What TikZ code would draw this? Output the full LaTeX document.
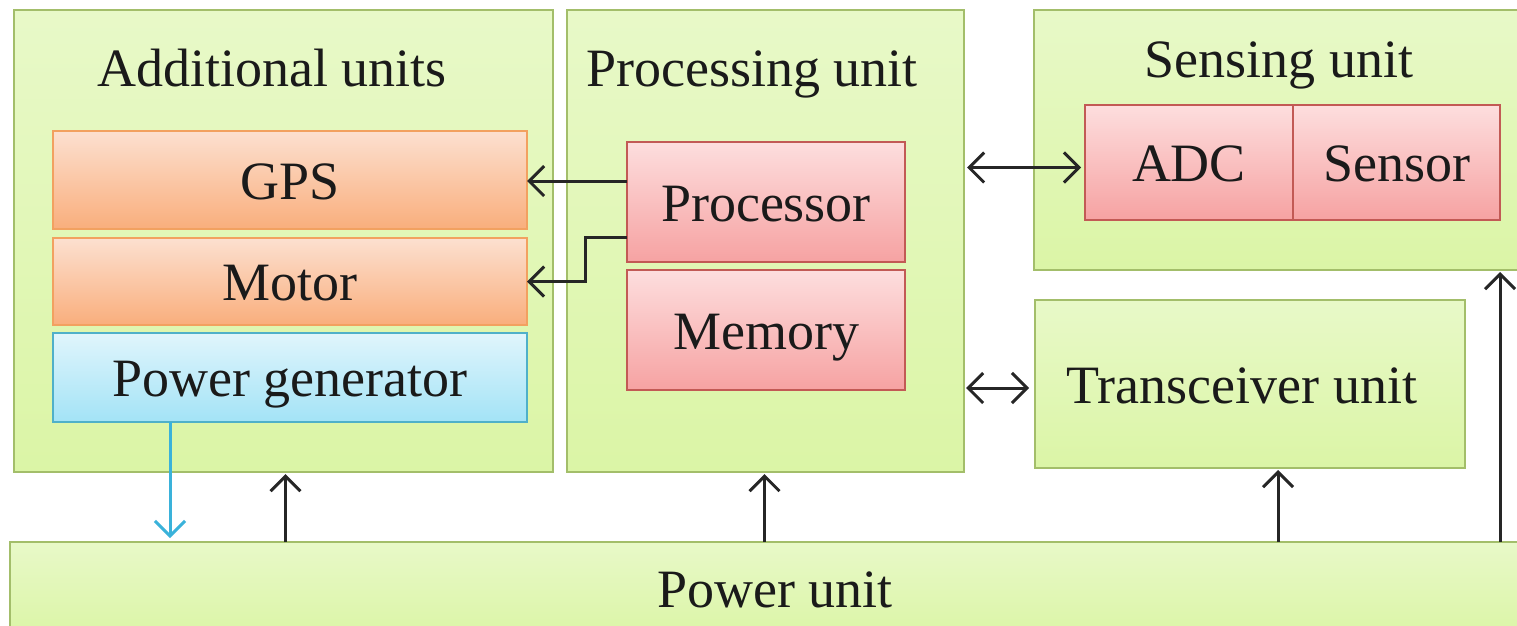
\documentclass[tikz,border=0pt]{standalone}
\usepackage{fontspec}
\setmainfont{Liberation Serif}
\usetikzlibrary{arrows.meta}
\definecolor{grnline}{HTML}{A3BE6A}
\definecolor{grntop}{HTML}{E8F9C8}
\definecolor{grnbot}{HTML}{DBF5A6}
\definecolor{orgline}{HTML}{F2A160}
\definecolor{orgtop}{HTML}{FCE0D0}
\definecolor{orgbot}{HTML}{F9AE7C}
\definecolor{redline}{HTML}{C25A55}
\definecolor{redtop}{HTML}{FDDEDE}
\definecolor{redbot}{HTML}{F6A2A2}
\definecolor{bluline}{HTML}{4FB0C9}
\definecolor{blutop}{HTML}{E0F5FC}
\definecolor{blubot}{HTML}{A3E3F6}
\definecolor{cyanarr}{HTML}{3AB2DA}
\definecolor{txt}{HTML}{1A1A1A}
\tikzset{
  base box/.style={draw, line width=2.5pt, inner sep=0pt, outer sep=0pt,
    anchor=north west, text height=38pt, text depth=0pt, text=txt,
    font=\fontsize{54}{60}\selectfont},
  grnbox/.style={base box, draw=grnline, top color=grntop, bottom color=grnbot},
  orgbox/.style={base box, draw=orgline, top color=orgtop, bottom color=orgbot},
  redbox/.style={base box, draw=redline, top color=redtop, bottom color=redbot},
  blubox/.style={base box, draw=bluline, top color=blutop, bottom color=blubot},
  title/.style={anchor=base, inner sep=0pt, text=txt, font=\fontsize{54}{60}\selectfont},
  arr/.style={line width=3pt, draw=black!85, -{Straight Barb[length=15pt,width=30pt,line width=3pt]}},
  dblarr/.style={line width=3pt, draw=black!85, {Straight Barb[length=15pt,width=30pt,line width=3pt]}-{Straight Barb[length=15pt,width=30pt,line width=3pt]}},
  cyarr/.style={line width=3pt, draw=cyanarr, -{Straight Barb[length=15pt,width=30pt,line width=3pt]}},
}
\begin{document}
\begin{tikzpicture}[x=1pt,y=-1pt]
\useasboundingbox (0,0) rectangle (1517,625);
\clip (0,0) rectangle (1517,625);
\fill[white] (0,0) rectangle (1517,625);

% containers
\node[grnbox, minimum width=539pt, minimum height=462pt] (add) at (14,10) {};
\node[title] (addt) at (272,86) {Additional units};
\node[grnbox, minimum width=397pt, minimum height=462pt] (pu) at (567,10) {};
\node[title] (put) at (752,86) {Processing unit};
\node[grnbox, minimum width=520pt, minimum height=260pt] (sens) at (1034,10) {};
\node[title] (senst) at (1279,77) {Sensing unit};
\node[grnbox, minimum width=430pt, minimum height=168pt] (tr) at (1035,300) {\hspace*{-16pt}Transceiver unit};
\node[grnbox, minimum width=1530pt, minimum height=95pt, text height=35pt] (pw) at (10,542) {Power unit};

% inner blocks
\node[orgbox, minimum width=474pt, minimum height=98pt] (gps) at (53,131) {GPS};
\node[orgbox, minimum width=474pt, minimum height=87pt] (mot) at (53,238) {Motor};
\node[blubox, minimum width=474pt, minimum height=89pt] (pg) at (53,333) {Power generator};
\node[redbox, minimum width=278pt, minimum height=120pt] (proc) at (627,142) {Processor};
\node[redbox, minimum width=278pt, minimum height=120pt] (mem) at (627,270) {Memory};
\node[redbox, minimum width=208pt, minimum height=115pt] (adc) at (1085,105) {ADC};
\node[redbox, minimum width=207pt, minimum height=115pt] (sen) at (1293,105) {Sensor};

% connectors
\draw[arr] ([yshift=21pt]proc.west) -- ([yshift=21pt]proc.west -| gps.east);
\draw[arr] ([yshift=-35pt]proc.west) -- ++(-42,0) |- (mot.east);
\draw[dblarr] ([yshift=-5pt,xshift=3pt]pu.east |- adc.west) -- ([yshift=-5pt,xshift=-4pt]adc.west);
\draw[dblarr] ([yshift=-4pt,xshift=2pt]pu.east |- tr.west) -- ([yshift=-4pt,xshift=-6pt]tr.west);
\draw[cyarr] ([xshift=-120pt]pg.south) -- ([xshift=-120pt,yshift=4pt]pg.south |- pw.north);
\draw[arr] ([xshift=2pt]add.south |- pw.north) -- ([xshift=2pt,yshift=-2pt]add.south);
\draw[arr] ([xshift=-1pt]pu.south |- pw.north) -- ([xshift=-1pt,yshift=-2pt]pu.south);
\draw[arr] ([xshift=28pt]tr.south |- pw.north) -- ([xshift=28pt,yshift=-2pt]tr.south);
\draw[arr] (sen.east |- pw.north) -- ([yshift=-2pt]sen.east |- sens.south);
\end{tikzpicture}
\end{document}
